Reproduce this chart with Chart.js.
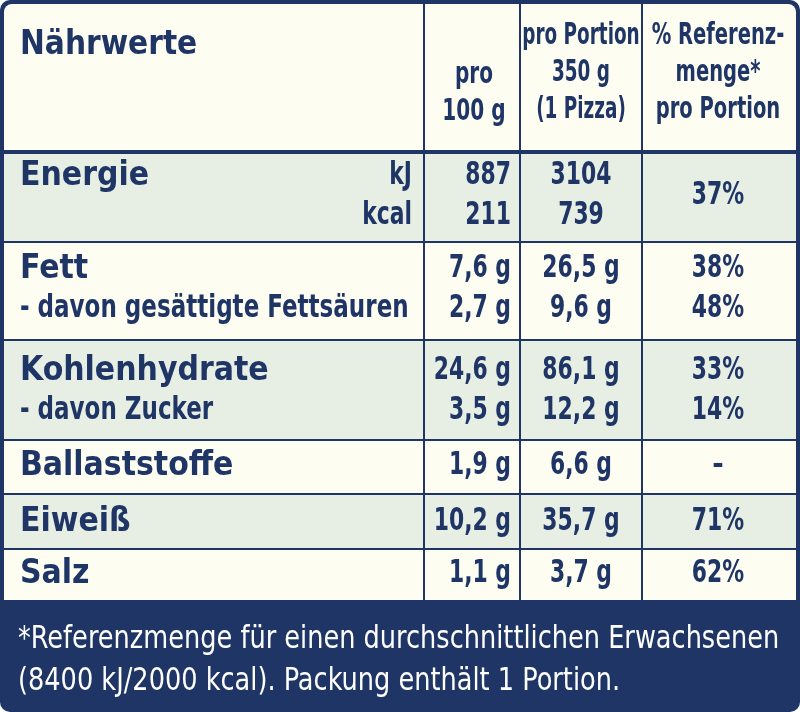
<!DOCTYPE html>
<html><head><meta charset="utf-8">
<script src="https://cdn.jsdelivr.net/npm/chart.js@4"></script>
<style>html,body{margin:0;padding:0;background:#fff}#wrap{width:800px;height:712px}</style>
</head><body><div id="wrap"><canvas id="c"></canvas></div>
<script>
const rowLabels = [["Energie", ""], ["Fett", "- davon gesättigte Fettsäuren"], ["Kohlenhydrate", "- davon Zucker"], ["Ballaststoffe"], ["Eiweiß"], ["Salz"]];
const units = ["kJ", "kcal"];
const per100 = [["887", "211"], ["7,6 g", "2,7 g"], ["24,6 g", "3,5 g"], ["1,9 g"], ["10,2 g"], ["1,1 g"]];
const perPortion = [["3104", "739"], ["26,5 g", "9,6 g"], ["86,1 g", "12,2 g"], ["6,6 g"], ["35,7 g"], ["3,7 g"]];
const refPct = [["37%"], ["38%", "48%"], ["33%", "14%"], ["–"], ["71%"], ["62%"]];
const headers = [["Nährwerte"], ["pro", "100 g"], ["pro Portion", "350 g", "(1 Pizza)"], ["% Referenz-", "menge*", "pro Portion"]];
const footnote = ["*Referenzmenge für einen durchschnittlichen Erwachsenen", "(8400 kJ/2000 kcal). Packung enthält 1 Portion."];

const navy = "#1e3566", cream = "#fdfdf2", shade = "#e7eee3";
const FONT = '"DejaVu Sans Condensed","DejaVu Sans",sans-serif';
const rowTop = [152, 242, 340, 440, 494, 549, 600];
const lineY = [[176, 216], [269, 309], [371, 411], [466], [522], [574]];

const tablePlugin = {
  id: "table",
  beforeDraw(chart) {
    const ctx = chart.ctx, sx = chart.scales.x, sy = chart.scales.y;
    const X = v => sx.getPixelForValue(v), Y = v => sy.getPixelForValue(v);
    ctx.save();
    ctx.fillStyle = navy;
    ctx.beginPath(); ctx.roundRect(X(0), Y(0), X(800) - X(0), Y(712) - Y(0), 10); ctx.fill();
    ctx.fillStyle = cream;
    ctx.beginPath(); ctx.roundRect(X(4), Y(4), X(796) - X(4), Y(600) - Y(4), [8, 8, 0, 0]); ctx.fill();
    rowTop.slice(0, 6).forEach((t, i) => {
      if (i % 2 === 0) { ctx.fillStyle = shade; ctx.fillRect(X(4), Y(t), X(796) - X(4), Y(rowTop[i + 1]) - Y(t)); }
    });
    ctx.strokeStyle = navy; ctx.lineWidth = 2;
    [424, 520, 642].forEach(x => { ctx.beginPath(); ctx.moveTo(X(x), Y(4)); ctx.lineTo(X(x), Y(600)); ctx.stroke(); });
    rowTop.slice(1, 6).forEach(t => { ctx.beginPath(); ctx.moveTo(X(4), Y(t)); ctx.lineTo(X(796), Y(t)); ctx.stroke(); });
    ctx.lineWidth = 4; ctx.beginPath(); ctx.moveTo(X(4), Y(152)); ctx.lineTo(X(796), Y(152)); ctx.stroke();

    ctx.fillStyle = navy; ctx.textBaseline = "middle";
    // text squeezed horizontally to imitate the condensed packaging font
    const txt = (s, x, y, align, size, f, weight) => {
      ctx.save();
      ctx.font = `${weight || "bold"} ${size}px ${FONT}`; ctx.textAlign = align;
      ctx.translate(X(x), Y(y)); ctx.scale(f, 1); ctx.fillText(s, 0, 0);
      ctx.restore();
    };
    txt(headers[0][0], 20, 45, "left", 33, 1);
    headers[1].forEach((s, i) => txt(s, 474, 75 + i * 37, "center", 31, 0.72));
    headers[2].forEach((s, i) => txt(s, 581, 36 + i * 37, "center", 31, 0.66));
    headers[3].forEach((s, i) => txt(s, 718, 36 + i * 37, "center", 31, 0.7));
    rowLabels.forEach((labs, r) => {
      labs.forEach((s, k) => { if (s) txt(s, 20, lineY[r][k], "left", k === 0 ? 34 : 32, k === 0 ? 0.98 : 0.8); });
      per100[r].forEach((s, k) => txt(s, 511, lineY[r][k], "right", 32, 0.76));
      perPortion[r].forEach((s, k) => txt(s, 581, lineY[r][k], "center", 32, 0.76));
      if (refPct[r].length === 1 && lineY[r].length === 2) txt(refPct[r][0], 718, (lineY[r][0] + lineY[r][1]) / 2, "center", 32, 0.76);
      else refPct[r].forEach((s, k) => txt(s, 718, lineY[r][k], "center", 32, 0.76));
    });
    units.forEach((s, k) => txt(s, 412, lineY[0][k], "right", 32, 0.76));
    ctx.fillStyle = "#ffffff";
    footnote.forEach((s, i) => txt(s, 18, 640 + i * 42, "left", 32, 0.89, "normal"));
    ctx.restore();
  }
};

new Chart(document.getElementById("c"), {
  type: "scatter",
  data: { datasets: [{ data: [] }] },
  options: {
    responsive: true, maintainAspectRatio: false, animation: false,
    layout: { padding: 0 },
    plugins: { legend: { display: false }, tooltip: { enabled: false } },
    scales: {
      x: { type: "linear", min: 0, max: 800, display: false },
      y: { type: "linear", min: 0, max: 712, reverse: true, display: false }
    }
  },
  plugins: [tablePlugin]
});
</script></body></html>
